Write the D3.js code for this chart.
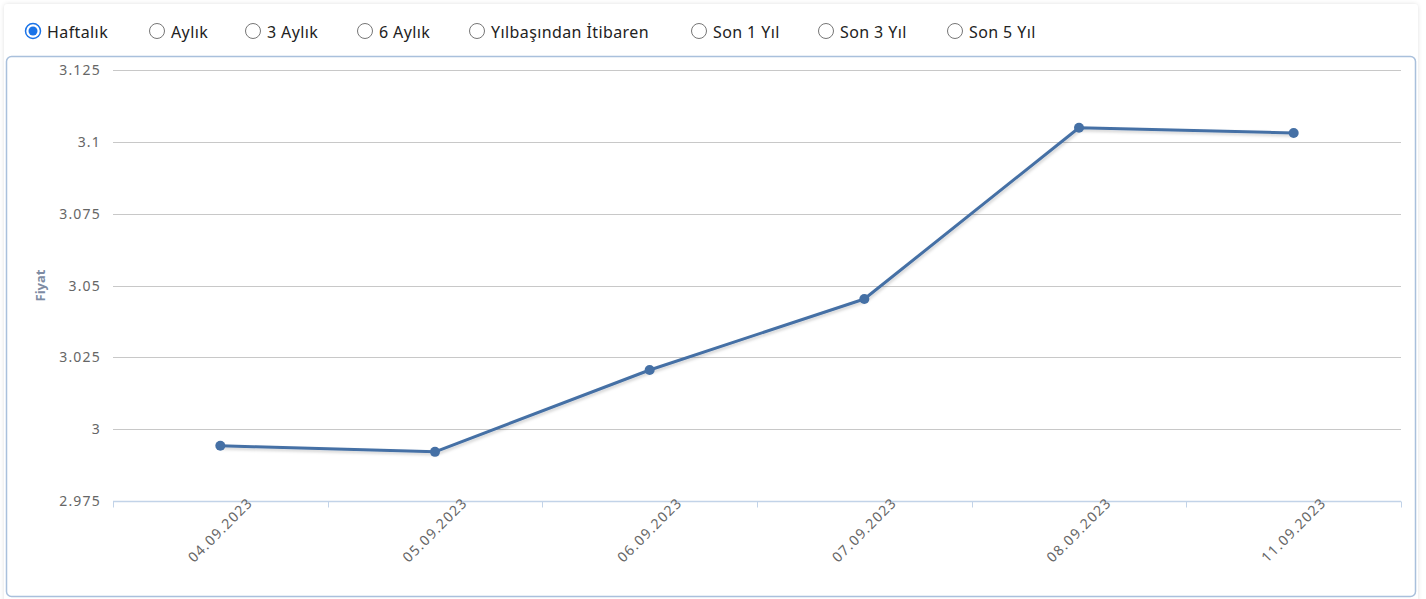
<!DOCTYPE html>
<html>
<head>
<meta charset="utf-8">
<script src="https://cdn.jsdelivr.net/npm/d3@7"></script>
<style>
  body { margin: 0; background: #fff; }
  svg { display: block; }
</style>
</head>
<body>
<script>
// veriler
const dates = ["04.09.2023", "05.09.2023", "06.09.2023", "07.09.2023", "08.09.2023", "11.09.2023"];
const prices = [2.9942, 2.9921, 3.0206, 3.0453, 3.1049, 3.1031];
const yTicks = [2.975, 3, 3.025, 3.05, 3.075, 3.1, 3.125];
const periods = ["Haftalık", "Aylık", "3 Aylık", "6 Aylık", "Yılbaşından İtibaren", "Son 1 Yıl", "Son 3 Yıl", "Son 5 Yıl"];
const selected = "Haftalık";

const W = 1426, H = 599;
const plot = { left: 113, right: 1401, top: 70, bottom: 501 };
const font = "'Noto Sans', 'DejaVu Sans', sans-serif";
// radyo butonlarının yatay konumları (sayfa düzeni)
const radioX = [33, 157, 253, 365, 477, 699, 826, 955];

const svg = d3.select("body").append("svg")
    .attr("width", W)
    .attr("height", H)
    .style("font-family", font);

const defs = svg.append("defs");
const sh = defs.append("filter").attr("id", "shadow")
    .attr("x", "-5%").attr("y", "-5%").attr("width", "110%").attr("height", "120%");
sh.append("feDropShadow").attr("dx", 1).attr("dy", 2).attr("stdDeviation", 1.5)
    .attr("flood-color", "#000").attr("flood-opacity", 0.18);

const boxSh = defs.append("filter").attr("id", "boxshadow")
    .attr("x", "-2%").attr("y", "-10%").attr("width", "104%").attr("height", "120%");
boxSh.append("feDropShadow").attr("dx", 0).attr("dy", 0).attr("stdDeviation", 2)
    .attr("flood-color", "#000").attr("flood-opacity", 0.12);

// dış kutu (radyo butonlarının olduğu panel)
svg.append("rect")
    .attr("x", 4).attr("y", 4).attr("width", 1414).attr("height", 600)
    .attr("rx", 4)
    .attr("fill", "#fff")
    .attr("filter", "url(#boxshadow)");

// grafik kutusu
svg.append("rect")
    .attr("x", 6.5).attr("y", 56.5).attr("width", 1409).attr("height", 540)
    .attr("rx", 5)
    .attr("fill", "#fff")
    .attr("stroke", "#a9c0dc")
    .attr("stroke-width", 1.5);

// radyo butonları
const radios = svg.append("g");
periods.forEach((p, i) => {
    const g = radios.append("g").attr("transform", `translate(${radioX[i]},31)`);
    if (p === selected) {
        g.append("circle").attr("r", 7.5).attr("fill", "#fff").attr("stroke", "#1a73e8").attr("stroke-width", 1.5);
        g.append("circle").attr("r", 4.5).attr("fill", "#1a73e8");
    } else {
        g.append("circle").attr("r", 7.5).attr("fill", "#fff").attr("stroke", "#767676").attr("stroke-width", 1);
    }
    g.append("text")
        .attr("x", 14)
        .attr("y", 6.5)
        .attr("font-size", 16)
        .attr("letter-spacing", 0.4)
        .attr("fill", "#222")
        .text(p);
});

// ölçekler
const x = d3.scaleBand().domain(dates).range([plot.left, plot.right]);
const y = d3.scaleLinear().domain([2.975, 3.125]).range([plot.bottom, plot.top]);

// yatay ızgara çizgileri
svg.append("g").selectAll("line")
    .data(yTicks.filter(d => d !== 2.975))
    .join("line")
    .attr("x1", plot.left).attr("x2", plot.right)
    .attr("y1", d => Math.round(y(d)) + 0.5)
    .attr("y2", d => Math.round(y(d)) + 0.5)
    .attr("stroke", "#c8c8c8")
    .attr("stroke-width", 1);

// y ekseni etiketleri
svg.append("g").selectAll("text")
    .data(yTicks)
    .join("text")
    .attr("x", plot.left - 12)
    .attr("y", d => y(d) + 5)
    .attr("text-anchor", "end")
    .attr("font-size", 14)
    .attr("letter-spacing", 1.2)
    .attr("fill", "#666")
    .text(d => d);

// x ekseni
const xAxis = svg.append("g").attr("transform", `translate(0,${plot.bottom + 0.5})`);
xAxis.append("line")
    .attr("x1", plot.left).attr("x2", plot.right)
    .attr("stroke", "#c2d3e8").attr("stroke-width", 1.5);
const edges = dates.map(d => x(d)).concat([plot.right]);
xAxis.selectAll("line.tick")
    .data(edges)
    .join("line")
    .attr("class", "tick")
    .attr("x1", d => Math.round(d) + 0.5).attr("x2", d => Math.round(d) + 0.5)
    .attr("y1", 0).attr("y2", 6)
    .attr("stroke", "#c2d3e8");

svg.append("g").selectAll("text")
    .data(dates)
    .join("text")
    .attr("transform", d => `translate(${x(d) + x.bandwidth() / 2},530) rotate(-45)`)
    .attr("text-anchor", "middle")
    .attr("dy", "0.35em")
    .attr("font-size", 14)
    .attr("letter-spacing", 1.3)
    .attr("fill", "#666")
    .text(d => d);

// y ekseni başlığı
svg.append("text")
    .attr("transform", `translate(45,${(plot.top + plot.bottom) / 2}) rotate(-90)`)
    .attr("text-anchor", "middle")
    .attr("font-size", 13)
    .attr("font-weight", "bold")
    .attr("fill", "#7d8ba3")
    .text("Fiyat");

// çizgi
const line = d3.line()
    .x((d, i) => x(dates[i]) + x.bandwidth() / 2)
    .y(d => y(d));

svg.append("path")
    .datum(prices)
    .attr("d", line)
    .attr("fill", "none")
    .attr("stroke", "#4570a5")
    .attr("stroke-width", 3)
    .attr("stroke-linejoin", "round")
    .attr("filter", "url(#shadow)");

svg.append("g").selectAll("circle")
    .data(prices)
    .join("circle")
    .attr("cx", (d, i) => x(dates[i]) + x.bandwidth() / 2)
    .attr("cy", d => y(d))
    .attr("r", 5)
    .attr("fill", "#4570a5");
</script>
</body>
</html>
